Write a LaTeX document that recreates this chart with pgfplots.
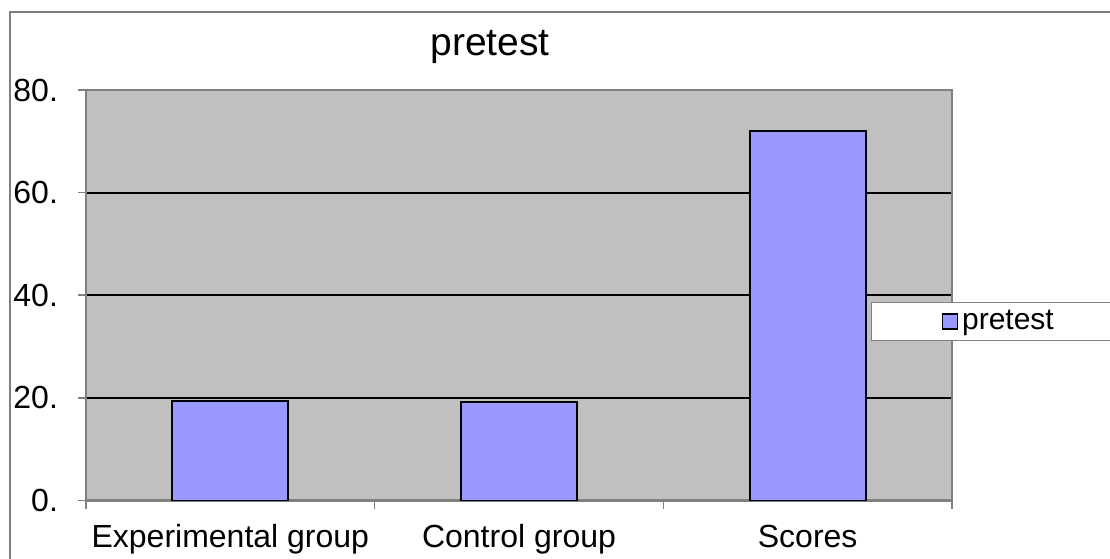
\documentclass[border=0pt]{standalone}
\usepackage{pgfplots}
\pgfplotsset{compat=1.18}
\usepackage{fontspec}
\setmainfont{Liberation Sans}
\definecolor{plotbg}{HTML}{C0C0C0}
\definecolor{barcol}{HTML}{9999FF}
\definecolor{framegray}{HTML}{808080}
\begin{document}
\begin{tikzpicture}
\clip (-43pt,-28.75pt) rectangle (512pt,250.25pt);
\draw[framegray, line width=0.6pt] (-38pt,-60pt) rectangle (600pt,244.25pt);
\begin{axis}[
  at={(0,0)}, anchor=south west,
  scale only axis, width=433pt, height=205.25pt,
  font=\fontsize{16}{19}\selectfont,
  xmin=-0.5, xmax=2.5, ymin=0, ymax=80,
  xtick={-0.5,0.5,1.5,2.5}, xticklabels={,,,},
  extra x ticks={0,1,2},
  extra x tick labels={Experimental group, Control group, Scores},
  extra x tick style={major tick length=0pt, xticklabel style={anchor=base, yshift=-23.5pt}},
  ytick={0,20,40,60,80}, yticklabels={0.,20.,40.,60.,80.},
  yticklabel style={xshift=-6.5pt},
  ymajorgrids, grid style={black, line width=1pt},
  axis background/.style={fill=plotbg},
  axis line style={framegray, line width=1.4pt},
  tick style={framegray, line width=0.8pt},
  tick align=outside, major tick length=4pt,
  xtick pos=bottom, ytick pos=left,
  /pgf/number format/assume math mode=true,
  title={\fontsize{19.5}{23}\selectfont pretest},
  title style={at={(0.4665,1)}, anchor=base, yshift=11pt, inner sep=0pt},
  legend style={at={(0.9065,0.3885)}, anchor=south west, draw=framegray, line width=0.5pt, fill=white, inner xsep=35pt, inner ysep=2pt, font=\fontsize{15}{18}\selectfont},
  legend image code/.code={\draw[fill=barcol, draw=black, line width=0.8pt] (0pt,-3.7pt) rectangle (7.5pt,3.7pt);},
]
\addplot[ybar, bar width=58pt, fill=barcol, draw=black, line width=1pt] coordinates {(0,19.4) (1,19.1) (2,72.1)};
\addlegendentry{pretest}
\end{axis}
\end{tikzpicture}
\end{document}
